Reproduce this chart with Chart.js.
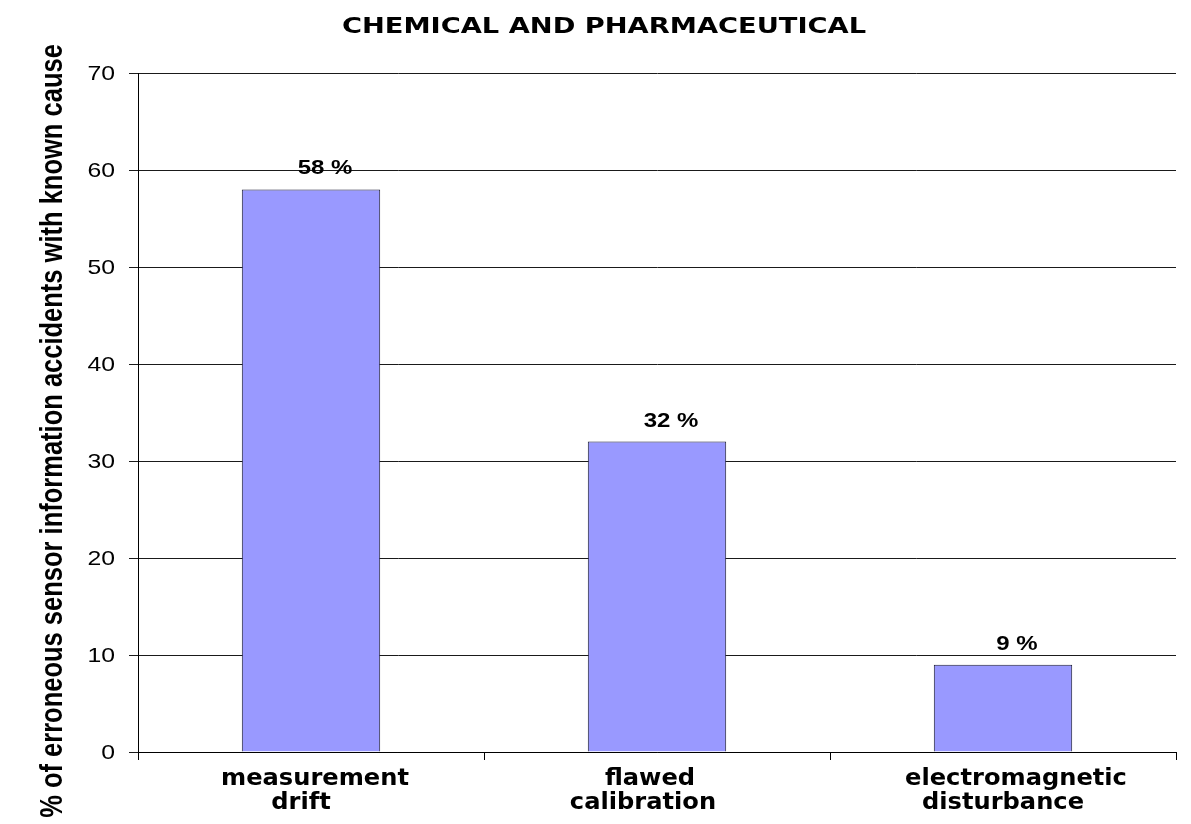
<!DOCTYPE html>
<html>
<head>
<meta charset="utf-8">
<script src="https://cdn.jsdelivr.net/npm/chart.js@4/dist/chart.umd.min.js"></script>
<style>
  html, body { margin: 0; padding: 0; background: #fff; }
  #wrap { width: 1191px; height: 824px; position: relative; }
</style>
</head>
<body>
<div id="wrap"><canvas id="c"></canvas></div>
<script>
const chartTitle = 'CHEMICAL AND PHARMACEUTICAL';
const yAxisTitle = '% of erroneous sensor information accidents with known cause';
const categories = [['measurement', 'drift'], ['flawed', 'calibration'], ['electromagnetic', 'disturbance']];
const values = [58, 32, 9];
const valueLabels = ['58 %', '32 %', '9 %'];
const yMin = 0;
const yMax = 70;
const yStep = 10;

// small horizontal nudges of each category label line (layout only)
const labelLineNudge = [[4, -10], [-7, -14], [13, 0]];

function drawStretched(ctx, text, x, y, font, sx, align, baseline) {
  ctx.save();
  ctx.font = font;
  ctx.textAlign = align;
  ctx.textBaseline = baseline;
  ctx.translate(x, y);
  ctx.scale(sx, 1);
  ctx.fillText(text, 0, 0);
  ctx.restore();
}

const textPlugin = {
  id: 'textPlugin',
  afterDraw(chart) {
    const ctx = chart.ctx;
    const xs = chart.scales.x;
    const ys = chart.scales.y;
    ctx.save();
    ctx.fillStyle = '#000';

    // title
    drawStretched(ctx, chartTitle, 604, 33, 'bold 22px "DejaVu Sans"', 1.24, 'center', 'alphabetic');

    // y tick labels
    ys.ticks.forEach(t => {
      const py = ys.getPixelForValue(t.value);
      drawStretched(ctx, String(t.value), 115, py + 1, '21px "Liberation Sans"', 1.18, 'right', 'middle');
    });

    // y axis title (rotated)
    ctx.save();
    ctx.translate(62, 431);
    ctx.rotate(-Math.PI / 2);
    ctx.scale(1, 1.25);
    ctx.font = 'bold 25.5px "Liberation Sans"';
    ctx.textAlign = 'center';
    ctx.textBaseline = 'alphabetic';
    ctx.fillText(yAxisTitle, 0, 0);
    ctx.restore();

    // x category labels
    categories.forEach((lines, i) => {
      const px = xs.getPixelForValue(i);
      lines.forEach((ln, j) => {
        const nudge = (labelLineNudge[i] && labelLineNudge[i][j]) || 0;
        drawStretched(ctx, ln, px + nudge, 785 + j * 24, 'bold 23px "DejaVu Sans"', 1.05, 'center', 'alphabetic');
      });
    });

    // value labels
    const meta = chart.getDatasetMeta(0);
    meta.data.forEach((bar, i) => {
      drawStretched(ctx, valueLabels[i], bar.x + 14, bar.y - 15, 'bold 20px "Liberation Sans"', 1.2, 'center', 'alphabetic');
    });
    ctx.restore();
  }
};

new Chart(document.getElementById('c'), {
  type: 'bar',
  data: {
    labels: categories.map(c => c.join(' ')),
    datasets: [{
      data: values,
      backgroundColor: '#9999ff',
      borderColor: '#1a1a33',
      borderWidth: 1,
      borderSkipped: 'start',
      categoryPercentage: 1.0,
      barPercentage: 0.4
    }]
  },
  options: {
    responsive: true,
    maintainAspectRatio: false,
    animation: false,
    layout: { padding: { top: 73, right: 15, bottom: 0, left: 0 } },
    plugins: {
      legend: { display: false },
      title: { display: false },
      tooltip: { enabled: false }
    },
    scales: {
      x: {
        ticks: { display: false },
        grid: { display: true, offset: true, drawOnChartArea: false, drawTicks: true, tickLength: 8, color: '#000', lineWidth: 1 },
        border: { display: true, color: '#000', width: 1 },
        afterFit(scale) { scale.height = 72; }
      },
      y: {
        min: yMin,
        max: yMax,
        ticks: { display: false, stepSize: yStep },
        grid: { color: '#1a1a1a', lineWidth: 1, drawTicks: true, tickLength: 9 },
        border: { display: true, color: '#000', width: 1 },
        afterFit(scale) { scale.width = 138; }
      }
    }
  },
  plugins: [textPlugin]
});
</script>
</body>
</html>
